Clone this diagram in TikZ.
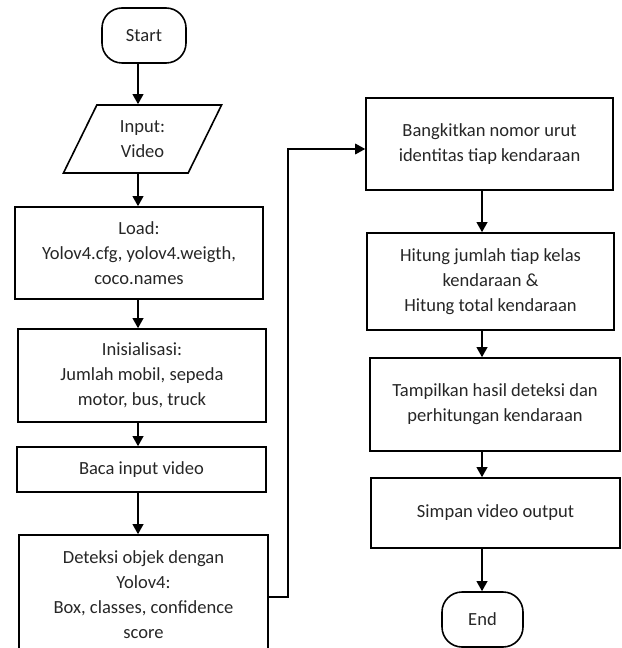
\documentclass[tikz,border=0pt]{standalone}
\usepackage{fontspec}
\setmainfont{Carlito}
\usetikzlibrary{shapes.geometric,arrows.meta}
\begin{document}
\begin{tikzpicture}[x=0.75pt,y=-0.75pt,
  every node/.style={text=black!85,font=\fontsize{13.9}{18.75}\selectfont,align=center,inner sep=0pt},
  box/.style={draw=black,line width=1.2pt,rectangle},
  term/.style={draw=black,line width=1.2pt,rectangle,rounded corners=15pt},
  io/.style={draw=black,line width=1.2pt,trapezium,trapezium left angle=66,trapezium right angle=114,trapezium stretches=true},
  arr/.style={draw=black,line width=1.2pt,-{Triangle[length=7.5pt,width=8pt]}},
  looparr/.style={draw=black,line width=0.9pt,-{Triangle[length=7.5pt,width=8pt]}}]
\useasboundingbox (0,0) rectangle (621,648);
\coordinate (colL) at (138,0);
\coordinate (colR) at (482,0);
\node[term,minimum width=63pt,minimum height=41.25pt] (start) at (144,35.5) {Start};
\node[io,minimum width=119.25pt,minimum height=51pt] (input) at (142.5,139) {Input:\\Video};
\node[box,minimum width=186pt,minimum height=69pt] (load) at (139,253) {Load:\\Yolov4.cfg, yolov4.weigth,\\coco.names};
\node[box,minimum width=186pt,minimum height=69.75pt] (init) at (142,375.5) {Inisialisasi:\\Jumlah mobil, sepeda\\motor, bus, truck};
\node[box,minimum width=186.75pt,minimum height=33.75pt] (baca) at (141.5,469.5) {Baca input video};
\node[box,minimum width=186.75pt,minimum height=89.25pt] (det) at (143.5,594.5) {Deteksi objek dengan\\Yolov4:\\Box, classes, confidence\\score};
\node[box,minimum width=185.25pt,minimum height=69pt] (bang) at (489.5,144) {Bangkitkan nomor urut\\identitas tiap kendaraan};
\node[box,minimum width=185.25pt,minimum height=72.75pt] (hit) at (490.5,281.5) {Hitung jumlah tiap kelas\\kendaraan \&\\Hitung total kendaraan};
\node[box,minimum width=187.5pt,minimum height=69.75pt] (tamp) at (495,404.5) {Tampilkan hasil deteksi dan\\perhitungan kendaraan};
\node[box,minimum width=186.75pt,minimum height=52.5pt] (simp) at (495.5,513) {Simpan video output};
\node[term,minimum width=60.75pt,minimum height=41.25pt] (end) at (482.5,619.5) {End};
\draw[arr] (start.south -| colL) -- (input.north -| colL);
\draw[arr] (input.south -| colL) -- (load.north -| colL);
\draw[arr] (load.south -| colL) -- (init.north -| colL);
\draw[arr] (init.south -| colL) -- (baca.north -| colL);
\draw[arr] (baca.south -| colL) -- (det.north -| colL);
\coordinate (lb) at (288,597);
\coordinate (lt) at (288,149);
\draw[looparr] (det.east |- lb) -- (lb) -- (lt) -- (bang.west |- lt);
\draw[arr] (bang.south -| colR) -- (hit.north -| colR);
\draw[arr] (hit.south -| colR) -- (tamp.north -| colR);
\draw[arr] (tamp.south -| colR) -- (simp.north -| colR);
\draw[arr] (simp.south -| colR) -- (end.north -| colR);
\end{tikzpicture}
\end{document}
